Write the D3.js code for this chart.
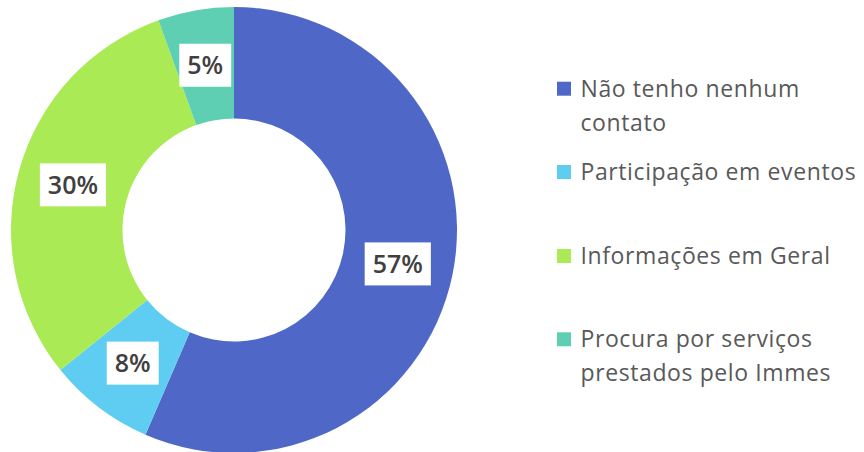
<!DOCTYPE html>
<html>
  <head>
    <meta charset="UTF-8">
    <title>Donut</title>
    <script src="https://d3js.org/d3.v7.min.js"></script>
    <style>
      body { margin: 0; background: #fff; }
    </style>
  </head>
  <body>
    <div id="chart-container"></div>
  <script type="text/javascript">

    // Data
    const categories = ["Não tenho nenhum contato", "Participação em eventos", "Informações em Geral", "Procura por serviços prestados pelo Immes"];
    const legendLines = [["Não tenho nenhum", "contato"], ["Participação em eventos"], ["Informações em Geral"], ["Procura por serviços", "prestados pelo Immes"]];
    const values = [56.5, 7.7, 30.3, 5.5];
    const labels = ["57%", "8%", "30%", "5%"];
    const colours = ["#4f68c8", "#5fcdf2", "#a9ea55", "#5ecfb3"];

    const width = 864;
    const height = 452;
    const cx = 234, cy = 230;
    const outer = 223, inner = 111.5;

    const svg = d3.select("#chart-container")
        .append("svg")
        .attr("width", width)
        .attr("height", height);

    const pie = d3.pie().sort(null).value(d => d)(values);
    const arc = d3.arc().innerRadius(inner).outerRadius(outer);

    const g = svg.append("g").attr("transform", `translate(${cx},${cy})`);

    g.selectAll("path.slice")
        .data(pie)
        .join("path")
        .attr("class", "slice")
        .attr("d", arc)
        .attr("fill", (d, i) => colours[i]);

    // Data labels in white boxes
    const lab = g.selectAll("g.lab")
        .data(pie)
        .join("g")
        .attr("class", "lab")
        .attr("transform", d => `translate(${arc.centroid(d)})`);

    lab.each(function(d, i) {
        const el = d3.select(this);
        const t = el.append("text")
            .attr("text-anchor", "middle")
            .attr("dy", "0.36em")
            .attr("font-family", "'Open Sans', sans-serif")
            .attr("font-weight", 600)
            .attr("font-size", 25)
            .attr("fill", "#404040")
            .text(labels[i]);
        const w = t.node().getComputedTextLength();
        el.insert("rect", "text")
            .attr("x", -w / 2 - 8)
            .attr("y", -21.5)
            .attr("width", w + 16)
            .attr("height", 43)
            .attr("fill", "#fff");
    });

    // Legend
    const legendY = [96.7, 180, 264, 347.3];
    const legend = svg.append("g");
    categories.forEach((c, i) => {
        const item = legend.append("g").attr("transform", `translate(557,${legendY[i]})`);
        item.append("rect")
            .attr("x", 0)
            .attr("y", -15)
            .attr("width", 14)
            .attr("height", 14)
            .attr("fill", colours[i]);
        const t = item.append("text")
            .attr("x", 23.5)
            .attr("font-family", "'Open Sans', sans-serif")
            .attr("font-size", 23)
            .attr("letter-spacing", 0.6)
            .attr("fill", "#595959");
        legendLines[i].forEach((line, j) => {
            t.append("tspan")
                .attr("x", 23.5)
                .attr("y", j * 34)
                .text(line);
        });
    });
  </script>
  </body>
</html>
